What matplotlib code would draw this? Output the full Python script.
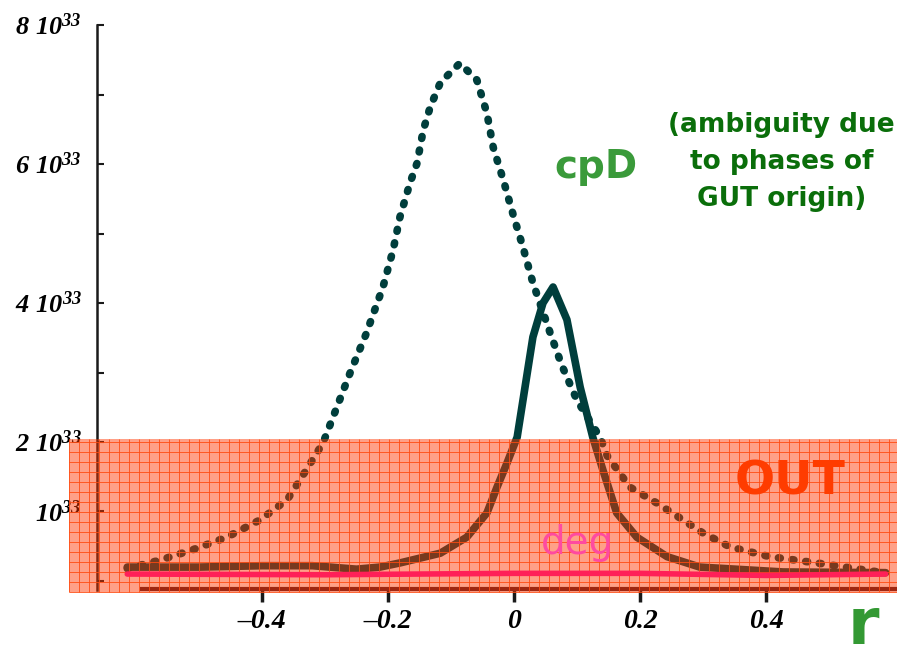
import matplotlib.pyplot as plt
import numpy as np

plt.rcParams['mathtext.fontset'] = 'custom'
plt.rcParams['mathtext.rm'] = 'Liberation Serif:italic:bold'
plt.rcParams['mathtext.it'] = 'Liberation Serif:italic:bold'

# ---- datos (y en unidades de 10^33) ----
r_dot = [-0.614, -0.562, -0.51, -0.456, -0.403, -0.36, -0.34, -0.303, -0.26, -0.235,
         -0.208, -0.192, -0.181, -0.165, -0.154, -0.144, -0.133, -0.117, -0.086,
         -0.059, -0.043, -0.033, -0.017, -0.002, 0.014, 0.03, 0.057, 0.076, 0.1, 0.137,
         0.148, 0.184, 0.227, 0.268, 0.3, 0.343, 0.406, 0.48, 0.586]
y_dot = [0.18, 0.3, 0.45, 0.63, 0.88, 1.17, 1.45, 1.99, 3.0, 3.55,
         4.23, 4.76, 5.24, 5.73, 6.01, 6.49, 6.82, 7.17, 7.45,
         7.21, 6.73, 6.24, 5.77, 5.29, 4.81, 4.29, 3.58, 3.1, 2.6, 2.06,
         1.8, 1.35, 1.12, 0.88, 0.69, 0.49, 0.35, 0.26, 0.12]

r_sol = [-0.614, -0.5, -0.4, -0.32, -0.25, -0.213, -0.181, -0.117, -0.075, -0.043,
         -0.027, -0.011, 0.005, 0.030, 0.046, 0.062, 0.084, 0.105, 0.125, 0.141,
         0.163, 0.195, 0.243, 0.295, 0.427, 0.59]
y_sol = [0.2, 0.2, 0.22, 0.22, 0.17, 0.2, 0.26, 0.4, 0.63, 0.98,
         1.35, 1.7, 2.07, 3.51, 4.0, 4.23, 3.76, 2.79, 2.07, 1.6,
         0.98, 0.63, 0.35, 0.2, 0.13, 0.12]

r_deg = [-0.614, -0.3, 0.0, 0.2, 0.4, 0.59]
y_deg = [0.1, 0.09, 0.11, 0.11, 0.08, 0.1]

y_major = [1, 2, 4, 6, 8]
y_major_labels = [r'$10^{33}$', r'$2\ 10^{33}$', r'$4\ 10^{33}$', r'$6\ 10^{33}$', r'$8\ 10^{33}$']
y_minor = [0, 3, 5, 7]
x_ticks = [-0.4, -0.2, 0, 0.2, 0.4]
x_labels = ['\u20130.4', '\u20130.2', '0', '0.2', '0.4']

out_top = 2.05
out_bottom = -0.16

fig = plt.figure(figsize=(8.97, 6.58), dpi=100)
ax = fig.add_axes([0, 0, 1, 1])
ax.set_xlim(-0.816, 0.608)
ax.set_ylim(-1.108, 8.36)

verde_osc = '#003e3c'
ax.plot(r_dot, y_dot, color=verde_osc, lw=5.5, linestyle=(0, (0.25, 1.55)),
        dash_capstyle='round', zorder=2)
ax.plot(r_sol, y_sol, color=verde_osc, lw=5.5, solid_capstyle='round',
        solid_joinstyle='round', zorder=2)

# zona OUT sombreada con cuadricula
ax.fill_between([-0.706, 0.608], out_bottom, out_top, color=(1.0, 0.21, 0.0),
                alpha=0.47, lw=0, zorder=3)
gx = np.arange(-0.706, 0.608, 10 / 630)
gy = np.arange(out_bottom, out_top, 10 / 69.5)
ax.vlines(gx, out_bottom, out_top, color='#ff4a10', lw=0.7, alpha=0.85, zorder=4)
ax.hlines(gy, -0.706, 0.608, color='#ff4a10', lw=0.7, alpha=0.85, zorder=4)

ax.plot(r_deg, y_deg, color='#ff2058', lw=4, solid_capstyle='round', zorder=5)

# ejes
for s in ['top', 'right']:
    ax.spines[s].set_visible(False)
ax.spines['left'].set_position(('data', -0.662))
ax.spines['left'].set_bounds(-0.13, 8.0)
ax.spines['left'].set_linewidth(1.8)
ax.spines['left'].set_color('#1a1a1a')
ax.spines['bottom'].set_position(('data', -0.12))
ax.spines['bottom'].set_bounds(-0.59, 0.608)
ax.spines['bottom'].set_linewidth(3)
ax.spines['bottom'].set_color('#4a1a22')

ax.set_yticks(y_major)
ax.set_yticklabels(y_major_labels)
ax.set_yticks(y_minor, minor=True)
ax.tick_params(axis='y', which='both', direction='in', length=5, width=1.5,
               pad=11, labelsize=19, color='#1a1a1a')
ax.set_xticks(x_ticks)
ax.set_xticklabels(x_labels, fontfamily='Liberation Serif', fontstyle='italic',
                   fontweight='bold', fontsize=20)
ax.tick_params(axis='x', which='major', direction='out', length=9, width=2.5,
               pad=5, color='#1a1a1a')

# anotaciones
ax.text(0.13, 5.96, 'cpD', fontsize=28, fontweight='bold', color='#3a9a3a',
        ha='center', va='center', zorder=6)
ax.text(0.425, 6.03, '(ambiguity due\nto phases of\nGUT origin)', fontsize=19,
        fontweight='bold', color='#0a6e0a', ha='center', va='center',
        linespacing=1.55, zorder=6)
ax.text(0.438, 1.43, 'OUT', fontsize=34, fontweight='bold', color='#ff3c00',
        ha='center', va='center', zorder=6)
ax.text(0.1, 0.55, 'deg', fontsize=28, color='#ff4aa0', ha='center',
        va='center', zorder=6)
ax.text(0.555, -1.1, 'r', fontsize=46, fontweight='bold', color='#339933',
        ha='center', va='bottom', zorder=6)

plt.savefig('out.png', dpi=100, facecolor='white')
